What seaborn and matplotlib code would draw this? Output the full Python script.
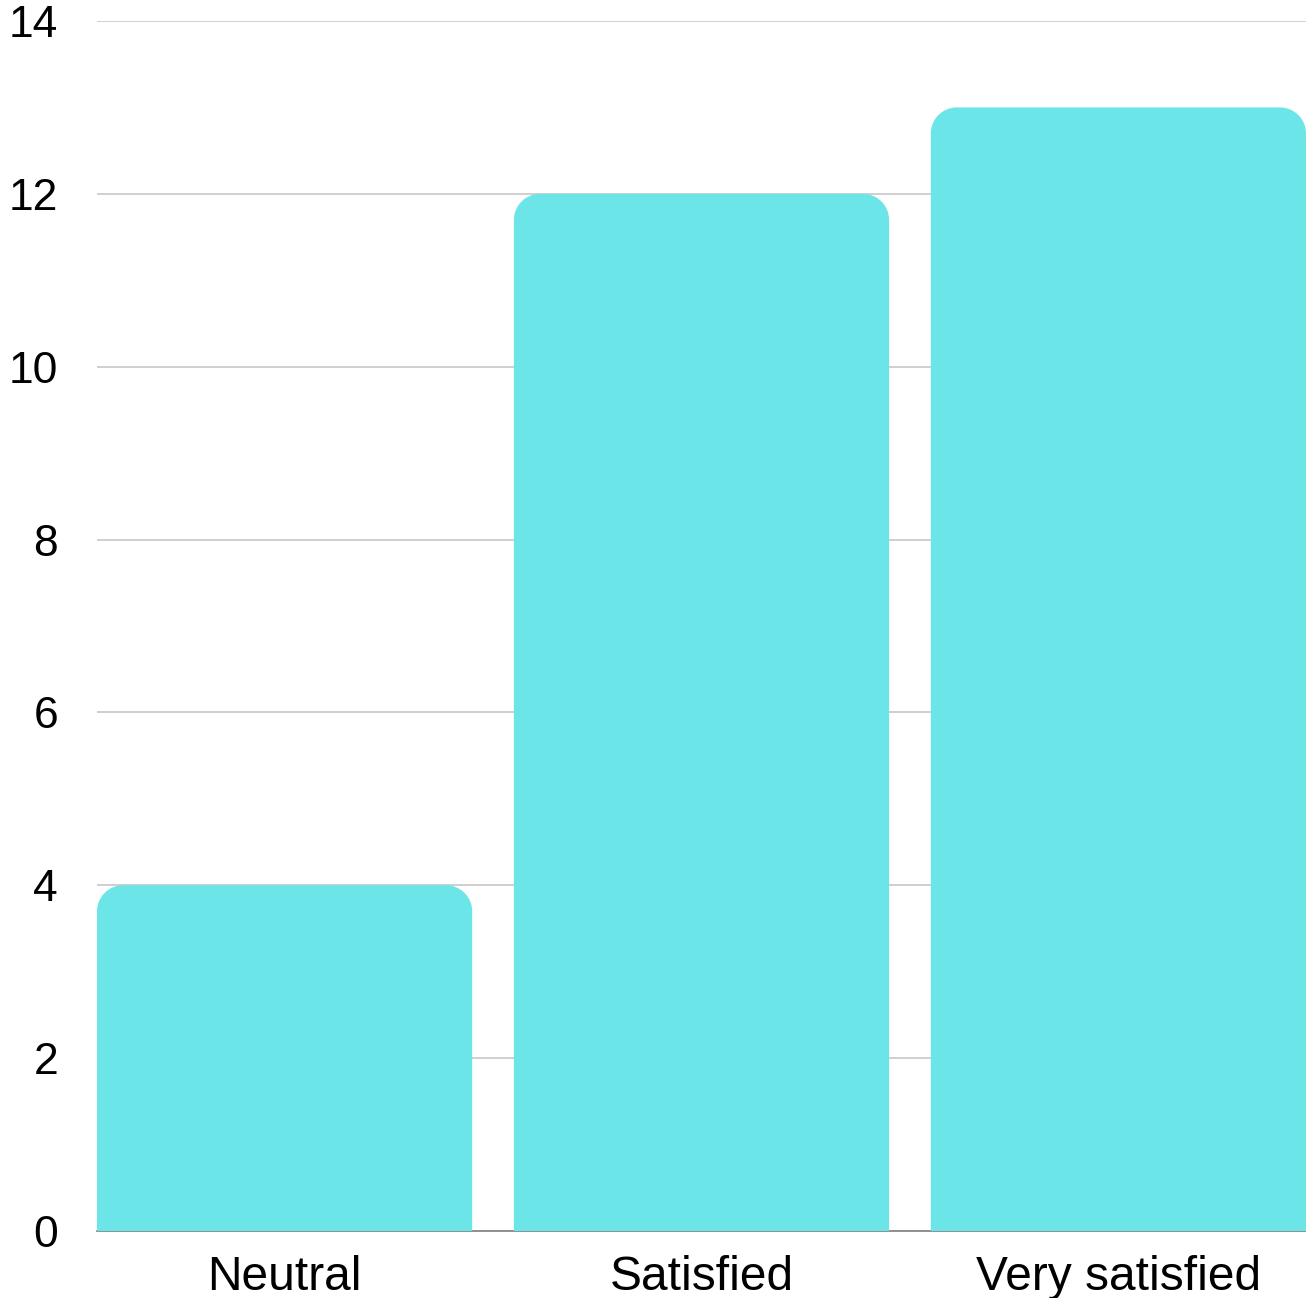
import matplotlib
matplotlib.use("Agg")
import matplotlib.pyplot as plt
from matplotlib.path import Path
from matplotlib.patches import PathPatch
import seaborn as sns
import pandas as pd

categories = ["Neutral", "Satisfied", "Very satisfied"]
counts = [4, 12, 13]
y_ticks = [0, 2, 4, 6, 8, 10, 12, 14]

bar_color = "#6ce5e8"
bar_width = 0.9

sns.set_theme(style="white")
plt.rcParams["font.family"] = ["Liberation Sans", "DejaVu Sans"]

W, H, DPI = 1306, 1298, 100
fig = plt.figure(figsize=(W / DPI, H / DPI), dpi=DPI)
ax = fig.add_axes([97 / W, (H - 1231) / H, (1306 - 97) / W, (1231 - 21) / H])

df = pd.DataFrame({"category": categories, "count": counts})
sns.barplot(data=df, x="category", y="count", color=bar_color, width=bar_width,
            saturation=1, ax=ax, zorder=2)

ax.set_xlim(-bar_width / 2, len(categories) - 1 + bar_width / 2)
ax.set_ylim(0, 14)
ax.set_yticks(y_ticks)
ax.set_xlabel("")
ax.set_ylabel("")
ax.yaxis.grid(True, color="#cccccc", linewidth=1.3, zorder=0)
ax.set_axisbelow(True)
for side in ["top", "right", "left"]:
    ax.spines[side].set_visible(False)
ax.spines["bottom"].set_color("#888888")
ax.spines["bottom"].set_linewidth(1.3)
ax.spines["bottom"].set_zorder(1)
ax.tick_params(axis="y", length=0, pad=28, labelsize=32, labelcolor="#000000")
ax.tick_params(axis="x", length=0, pad=17, labelsize=34.5, labelcolor="#000000")

# Replace the plain rectangles with bars that have rounded top corners
fig.canvas.draw()
ax_w_px = ax.get_window_extent().width
ax_h_px = ax.get_window_extent().height
radius_px = 26
rx = radius_px * (ax.get_xlim()[1] - ax.get_xlim()[0]) / ax_w_px
ry = radius_px * (ax.get_ylim()[1] - ax.get_ylim()[0]) / ax_h_px
k = 0.5523
for rect in list(ax.patches):
    x0, y0 = rect.get_x(), rect.get_y()
    w, h = rect.get_width(), rect.get_height()
    x1, y1 = x0 + w, y0 + h
    verts = [
        (x0, y0),
        (x0, y1 - ry),
        (x0, y1 - ry + k * ry), (x0 + rx - k * rx, y1), (x0 + rx, y1),
        (x1 - rx, y1),
        (x1 - rx + k * rx, y1), (x1, y1 - ry + k * ry), (x1, y1 - ry),
        (x1, y0),
        (x0, y0),
    ]
    codes = [Path.MOVETO, Path.LINETO,
             Path.CURVE4, Path.CURVE4, Path.CURVE4,
             Path.LINETO,
             Path.CURVE4, Path.CURVE4, Path.CURVE4,
             Path.LINETO, Path.CLOSEPOLY]
    patch = PathPatch(Path(verts, codes), facecolor=bar_color,
                      edgecolor="none", zorder=2)
    rect.remove()
    ax.add_patch(patch)

fig.savefig("out.png", dpi=DPI, facecolor="white")
